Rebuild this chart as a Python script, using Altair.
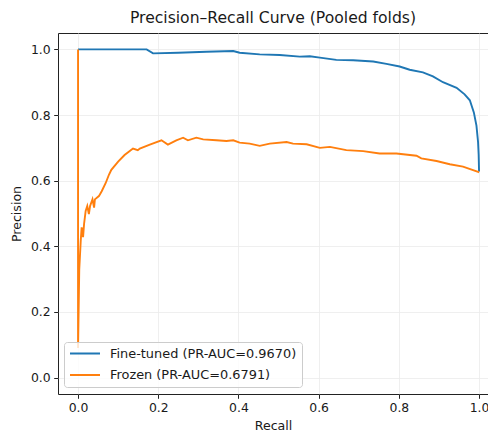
import altair as alt
import pandas as pd

# Fine-tuned curve (recall, precision)
ft_recall = [0.0, 0.171, 0.187, 0.25, 0.32, 0.387, 0.403, 0.453, 0.503, 0.553, 0.578, 0.603,
             0.644, 0.686, 0.736, 0.769, 0.802, 0.827, 0.860, 0.885, 0.91, 0.944, 0.964,
             0.977, 0.987, 0.9935, 0.9975, 0.999, 1.0]
ft_precision = [1.0, 1.0, 0.988, 0.99, 0.993, 0.995, 0.99, 0.985, 0.983, 0.978, 0.979, 0.975,
                0.968, 0.967, 0.963, 0.956, 0.948, 0.938, 0.93, 0.918, 0.90, 0.883, 0.863,
                0.845, 0.808, 0.768, 0.718, 0.68, 0.628]

# Frozen curve (recall, precision)
fz_recall = [0.0, 0.0, 0.003, 0.0067, 0.009, 0.0125, 0.015, 0.019, 0.023, 0.027, 0.03, 0.036,
             0.04, 0.042, 0.052, 0.059, 0.069, 0.077, 0.083, 0.1, 0.116, 0.137, 0.149,
             0.154, 0.179, 0.208, 0.224, 0.245, 0.262, 0.274, 0.295, 0.312, 0.345, 0.37,
             0.387, 0.403, 0.428, 0.453, 0.478, 0.52, 0.536, 0.57, 0.603, 0.628, 0.669,
             0.711, 0.752, 0.794, 0.844, 0.856, 0.894, 0.927, 0.96, 0.9975, 1.0]
fz_precision = [1.0, 0.09, 0.33, 0.417, 0.458, 0.428, 0.468, 0.508, 0.523, 0.498, 0.523, 0.543,
                0.518, 0.543, 0.553, 0.568, 0.593, 0.618, 0.633, 0.658, 0.678, 0.698, 0.693,
                0.698, 0.71, 0.723, 0.71, 0.723, 0.731, 0.723, 0.731, 0.726, 0.723, 0.721,
                0.723, 0.716, 0.713, 0.706, 0.713, 0.718, 0.713, 0.711, 0.70, 0.703, 0.693,
                0.69, 0.683, 0.683, 0.676, 0.668, 0.66, 0.65, 0.643, 0.627, 0.625]

series_names = ["Fine-tuned (PR-AUC=0.9670)", "Frozen (PR-AUC=0.6791)"]
series_colors = ["#1f77b4", "#ff7f0e"]
tick_values = [0.0, 0.2, 0.4, 0.6, 0.8, 1.0]

rows = []
for i, (r, p) in enumerate(zip(ft_recall, ft_precision)):
    rows.append({"model": series_names[0], "recall": r, "precision": p, "idx": i})
for i, (r, p) in enumerate(zip(fz_recall, fz_precision)):
    rows.append({"model": series_names[1], "recall": r, "precision": p, "idx": i})
df = pd.DataFrame(rows)

text_color = "#1a1a1a"
font = "DejaVu Sans"

chart = alt.Chart(df).mark_line(strokeWidth=1.9).encode(
    x=alt.X("recall:Q",
            scale=alt.Scale(domain=[-0.05, 1.0223], nice=False, zero=False),
            axis=alt.Axis(values=tick_values, format=".1f", title="Recall", titlePadding=5)),
    y=alt.Y("precision:Q",
            scale=alt.Scale(domain=[-0.05, 1.05], nice=False, zero=False),
            axis=alt.Axis(values=tick_values, format=".1f", title="Precision", titlePadding=7)),
    color=alt.Color("model:N",
                    scale=alt.Scale(domain=series_names, range=series_colors),
                    legend=alt.Legend(title=None, orient="none", legendX=6, legendY=309,
                                      fillColor="rgba(255,255,255,0.8)", strokeColor="#cccccc",
                                      cornerRadius=3, padding=5, symbolType="stroke",
                                      symbolSize=900, symbolStrokeWidth=2, labelFontSize=12.9,
                                      labelFont=font, labelColor=text_color, labelOffset=9,
                                      rowPadding=7.5, clipHeight=13, labelLimit=400)),
    order=alt.Order("idx:Q"),
).properties(
    width=430,
    height=361,
    autosize=alt.AutoSizeParams(type="none"),
    padding={"left": 50, "top": 25, "right": 0, "bottom": 39},
    title=alt.TitleParams("Precision\u2013Recall Curve (Pooled folds)", fontSize=15.6,
                          fontWeight="normal", font=font, color=text_color, anchor="middle",
                          frame="group", baseline="alphabetic", offset=7, dy=12.5),
).configure_view(
    stroke="#222222", strokeWidth=1
).configure_axis(
    labelFont=font, titleFont=font, labelFontSize=12.4, titleFontSize=12.6,
    titleFontWeight="normal", labelColor=text_color, titleColor=text_color,
    tickColor="#222222", tickSize=4.3, tickWidth=1, labelPadding=3.5,
    domain=False, grid=True, gridColor="#ebebeb", gridWidth=0.8,
)

chart.save("out.html", embed_options={"renderer": "svg", "actions": False})
